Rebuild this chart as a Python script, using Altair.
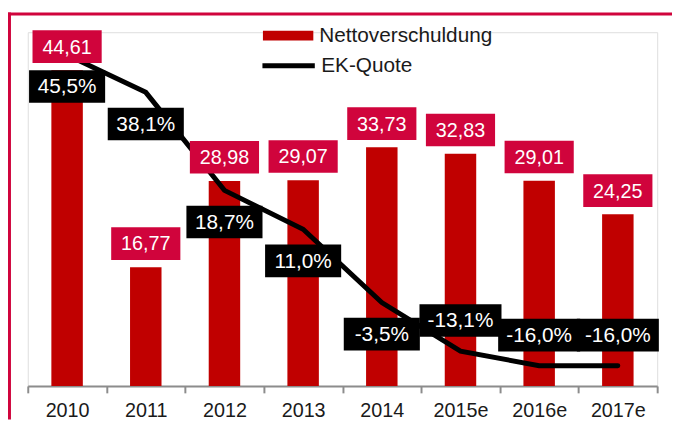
import altair as alt
import pandas as pd

years = ["2010", "2011", "2012", "2013", "2014", "2015e", "2016e", "2017e"]
debt = [44.61, 16.77, 28.98, 29.07, 33.73, 32.83, 29.01, 24.25]
quote = [45.5, 38.1, 18.7, 11.0, -3.5, -13.1, -16.0, -16.0]
series_bar = "Nettoverschuldung"
series_line = "EK-Quote"

df = pd.DataFrame({"year": years, "debt": debt, "quote": quote})
df["debt_lab"] = [f"{v:.2f}".replace(".", ",") for v in debt]
df["quote_lab"] = [f"{v:.1f}".replace(".", ",") + "%" for v in quote]
df["s1"] = series_bar
df["s2"] = series_line

RED_BAR = "#C00000"
RED_LAB = "#D0043C"
FONT = "Liberation Sans"


def rect_path(w, h):
    r = h / w
    return f"M-1,-{r:.4f}L1,-{r:.4f}L1,{r:.4f}L-1,{r:.4f}Z"


x = alt.X(
    "year:N",
    sort=years,
    scale=alt.Scale(paddingInner=0, paddingOuter=0),
    axis=alt.Axis(
        title=None, labelAngle=0, labelFontSize=20, labelColor="#1a1a1a",
        labelFont=FONT, domainColor="#8c8c8c", domainWidth=2, tickColor="#8c8c8c",
        tickWidth=2, tickSize=7, labelPadding=8, tickBand="extent",
    ),
)
y_debt = alt.Y("debt:Q", scale=alt.Scale(domain=[0, 50]), axis=None)
y_quote = alt.Y("quote:Q", scale=alt.Scale(domain=[-20, 50]), axis=None)

base = alt.Chart(df)

bars = base.mark_bar(width=alt.RelativeBandSize(0.4)).encode(
    x=x, y=y_debt,
    color=alt.Color("s1:N", scale=alt.Scale(range=[RED_BAR]), legend=alt.Legend(
        title=None, orient="none", legendX=238, legendY=-22, padding=0,
        symbolType=rect_path(51, 10), symbolSize=51 * 51, symbolStrokeWidth=0,
        labelFontSize=21, labelFont=FONT, labelColor="#1a1a1a", labelOffset=6,
        labelLimit=0)),
)

line = base.mark_line(strokeWidth=5, interpolate="linear", strokeCap="round").encode(
    x=x, y=y_quote,
    stroke=alt.Stroke("s2:N", scale=alt.Scale(range=["#000000"]), legend=alt.Legend(
        title=None, orient="none", legendX=235, legendY=5, padding=0,
        symbolType="stroke", symbolSize=53 * 53, symbolStrokeWidth=5,
        labelFontSize=21, labelFont=FONT, labelColor="#1a1a1a", labelOffset=4,
        labelLimit=0)),
)

debt_box = base.mark_point(
    shape=rect_path(70, 33), size=70 * 70, filled=True, opacity=1,
    color=RED_LAB, strokeWidth=0, yOffset=-24,
).encode(x=x, y=y_debt)
debt_txt = base.mark_text(
    color="white", fontSize=20, font=FONT, baseline="middle", yOffset=-23,
).encode(x=x, y=y_debt, text="debt_lab:N")

below = base.transform_filter("datum.quote > -10")
above = base.transform_filter("datum.quote <= -10")

q_box_b = below.mark_point(
    shape=rect_path(77, 33), size=77 * 77, filled=True, opacity=1,
    color="#000000", strokeWidth=0, yOffset=32,
).encode(x=x, y=y_quote)
q_txt_b = below.mark_text(
    color="white", fontSize=21, font=FONT, baseline="middle", yOffset=33,
).encode(x=x, y=y_quote, text="quote_lab:N")
q_box_a = above.mark_point(
    shape=rect_path(83, 33), size=83 * 83, filled=True, opacity=1,
    color="#000000", strokeWidth=0, yOffset=-31,
).encode(x=x, y=y_quote)
q_txt_a = above.mark_text(
    color="white", fontSize=21, font=FONT, baseline="middle", yOffset=-30,
).encode(x=x, y=y_quote, text="quote_lab:N")

frame_src = alt.Chart(pd.DataFrame({"k": [0]}))
frame_top = frame_src.mark_rule(color=RED_LAB, strokeWidth=3).encode(
    x=alt.value(-20), x2=alt.value(652), y=alt.value(-18.5))
frame_left = frame_src.mark_rule(color=RED_LAB, strokeWidth=3).encode(
    x=alt.value(-18.5), y=alt.value(-20), y2=alt.value(392))

chart = alt.layer(
    bars, line, debt_box, debt_txt, q_box_b, q_txt_b, q_box_a, q_txt_a,
    frame_top, frame_left,
).resolve_scale(y="independent").properties(
    width=637, height=358,
    autosize=alt.AutoSizeParams(type="none"),
    padding={"left": 20, "top": 22, "right": 15, "bottom": 33},
).configure_view(stroke=None).configure(font=FONT)

chart.save("out.html", embed_options={"renderer": "svg", "actions": False})
